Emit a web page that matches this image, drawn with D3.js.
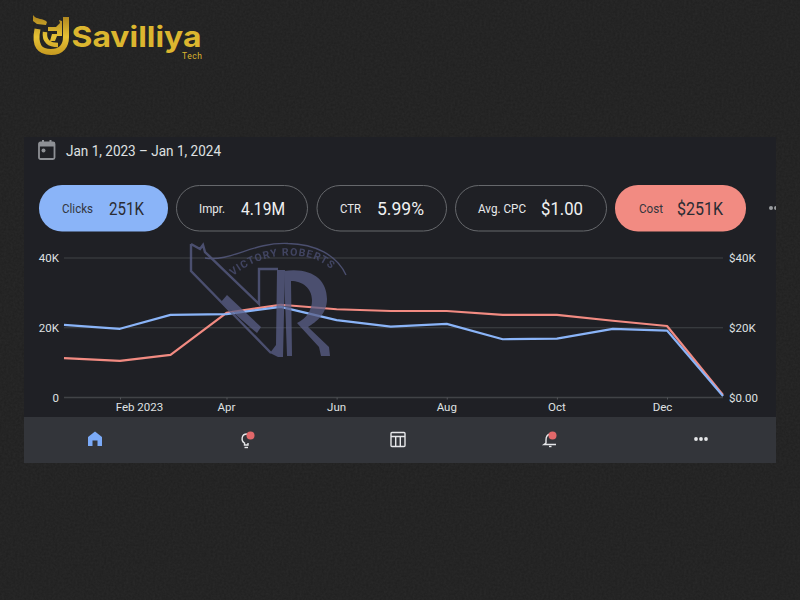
<!DOCTYPE html>
<html><head><meta charset="utf-8">
<style>html,body{margin:0;padding:0;background:#212121;overflow:hidden}svg{display:block}text{font-family:Roboto,sans-serif}</style>
<script src="https://cdn.jsdelivr.net/npm/d3@7/dist/d3.min.js"></script>
</head><body><svg id="c" width="800" height="600"></svg>
<script>
// ---- data ----
const months = ["2023-01-01","2023-02-01","2023-03-01","2023-04-01","2023-05-01","2023-06-01","2023-07-01","2023-08-01","2023-09-01","2023-10-01","2023-11-01","2023-12-01","2024-01-01"];
const clicks = [20800,19700,23700,23900,26000,22200,20300,21100,16700,16900,19700,19200,400];
const cost   = [11300,10500,12200,24300,26600,25300,24800,24800,23700,23700,22000,20500,700];
const yTicks = [0,20000,40000];
const metricNames  = ["Clicks","Impr.","CTR","Avg. CPC","Cost"];
const metricValues = ["251K","4.19M","5.99%","$1.00","$251K"];
const dateRange = "Jan 1, 2023 – Jan 1, 2024";
const brandName = "Savilliya", brandSub = "Tech", watermarkText = "VICTORY ROBERTS";

// ---- colours ----
const BLUE="#8ab4f8", RED="#f28b82", CARD="#1f2025", BAR="#33353a", TXT="#dfe0e2", GRID="#414347", WM="#5a5f88";

const svg=d3.select("#c");
const defs=svg.append("defs");
const f=defs.append("filter").attr("id","noise").attr("x",0).attr("y",0).attr("width","100%").attr("height","100%");
f.append("feTurbulence").attr("type","fractalNoise").attr("baseFrequency",0.45).attr("numOctaves",2).attr("seed",4);
f.append("feColorMatrix").attr("values","0 0 0 0 1  0 0 0 0 1  0 0 0 0 1  0 0 0 0.05 -0.01");
const g=defs.append("linearGradient").attr("id","gold").attr("gradientUnits","userSpaceOnUse").attr("x1",0).attr("y1",14).attr("x2",0).attr("y2",56);
g.append("stop").attr("offset",0).attr("stop-color","#a87f1c");
g.append("stop").attr("offset",.55).attr("stop-color","#e6c235");
g.append("stop").attr("offset",1).attr("stop-color","#c4971f");
defs.append("clipPath").attr("id","cardClip").append("rect").attr("x",24).attr("y",137).attr("width",752).attr("height",280);

svg.append("rect").attr("width",800).attr("height",600).attr("fill","#212121");
svg.append("rect").attr("width",800).attr("height",600).attr("filter","url(#noise)");

// ---- logo ----
const logo=svg.append("g").attr("fill","none").attr("stroke","url(#gold)");
logo.append("path").attr("d","M37.5 29 C34 46 40 52 51 52 C62 52 66 45 66 37 L66 17").attr("stroke-width",6);
logo.append("path").attr("d","M33 15 C36 20 44 18 47 22 L46 25 L37 24 L33 21 Z").attr("fill","url(#gold)").attr("stroke","none");
logo.append("path").attr("d","M45 32 C44 41 49 45 58 45").attr("stroke-width",4.5);
logo.append("path").attr("d","M48 27 H56 L60 23 L59 20 L62 21 L62 36 H57 L55 41 H50 L52 34 H57 V31 H48 Z").attr("fill","url(#gold)").attr("stroke","none");
svg.append("text").attr("x",71.5).attr("y",47).text(brandName).attr("fill","#dcb62f")
  .style("font-family","Inter,'Open Sans',sans-serif").style("font-weight",700).style("font-size","29px")
  .attr("textLength",130).attr("lengthAdjust","spacingAndGlyphs");
svg.append("text").attr("x",182).attr("y",58.5).text(brandSub).attr("fill","#dcb62f").style("font-size","8.5px").attr("textLength",20);

// ---- card ----
svg.append("rect").attr("x",24).attr("y",137).attr("width",752).attr("height",280).attr("fill",CARD);
svg.append("rect").attr("x",24).attr("y",417).attr("width",752).attr("height",46).attr("fill",BAR);

// calendar icon
const cal=svg.append("g").attr("transform","translate(38,140)");
cal.append("rect").attr("x",1).attr("y",2.5).attr("width",15.5).attr("height",16.5).attr("rx",1.5).attr("fill","none").attr("stroke","#8e9095").attr("stroke-width",1.8);
cal.append("rect").attr("x",1).attr("y",2.5).attr("width",15.5).attr("height",4).attr("fill","#8e9095");
cal.append("rect").attr("x",4).attr("y",0).attr("width",2).attr("height",3).attr("fill","#8e9095");
cal.append("rect").attr("x",11.5).attr("y",0).attr("width",2).attr("height",3).attr("fill","#8e9095");
cal.append("circle").attr("cx",5.5).attr("cy",10.5).attr("r",2).attr("fill","#8e9095");
svg.append("text").attr("x",66).attr("y",155.5).text(dateRange).attr("fill",TXT).style("font-size","14.5px")
  .attr("textLength",155).attr("lengthAdjust","spacingAndGlyphs");

// ---- metric chips ----
const chipX=[39,176,316.5,455,615], chipW=[129,132,130.5,152,131], labelDx=[23,23,23.5,23,24], valueDx=[70,65,60.5,86,62];
const labelW=[31,26,21,48,24], valueW=[35,44,47,42,46];
const chipFill=[BLUE,null,null,null,RED];
metricNames.forEach((n,i)=>{
  const on=!!chipFill[i];
  const c=svg.append("g").attr("transform",`translate(${chipX[i]},185)`);
  c.append("rect").attr("x",on?0:.5).attr("y",on?0:.5).attr("width",on?chipW[i]:chipW[i]-1).attr("height",on?46.5:45.5).attr("rx",23)
   .attr("fill",on?chipFill[i]:"none").attr("stroke",on?"none":"#66686c");
  c.append("text").attr("x",labelDx[i]).attr("y",27.5).text(n).attr("fill",on?"#33363d":"#e8e9eb").style("font-size","12px")
   .attr("textLength",labelW[i]).attr("lengthAdjust","spacingAndGlyphs");
  c.append("text").attr("x",valueDx[i]).attr("y",29.5).text(metricValues[i]).attr("fill",on?"#2a2c33":"#f0f1f2").style("font-size","18px").style("font-weight",400)
   .attr("textLength",valueW[i]).attr("lengthAdjust","spacingAndGlyphs");
});
const more=svg.append("g").attr("clip-path","url(#cardClip)");
[771,776].forEach(x=>more.append("circle").attr("cx",x).attr("cy",208).attr("r",2).attr("fill","#9a9ca0"));

// ---- chart ----
const parse=d3.utcParse("%Y-%m-%d");
const dates=months.map(parse);
const x=d3.scaleUtc().domain([dates[0],dates[dates.length-1]]).range([64,723]);
const y=d3.scaleLinear().domain([0,40000]).range([397.5,258]);
const fmtL=v=>v===0?"0":(v/1000)+"K";
const fmtR=v=>v===0?"$0.00":"$"+(v/1000)+"K";

const gridG=svg.append("g");
gridG.selectAll("line").data(yTicks).join("line").attr("x1",x.range()[0]).attr("x2",x.range()[1])
  .attr("y1",d=>y(d)).attr("y2",d=>y(d)).attr("stroke",GRID).attr("stroke-width",d=>d===0?1.3:1);

const styleAxis=a=>{a.select(".domain").remove();a.selectAll("text").attr("fill",TXT).style("font-size","11.5px").style("font-family","Roboto,sans-serif");};
svg.append("g").attr("transform","translate(64,0)").call(d3.axisLeft(y).tickValues(yTicks).tickFormat(fmtL).tickSize(0).tickPadding(5)).call(styleAxis);
svg.append("g").attr("transform","translate(723,0)").call(d3.axisRight(y).tickValues(yTicks).tickFormat(fmtR).tickSize(0).tickPadding(6)).call(styleAxis);

const xTicks=dates.filter((d,i)=>i%2===1);
const xa=svg.append("g").attr("transform","translate(0,397.5)")
  .call(d3.axisBottom(x).tickValues(xTicks).tickFormat(d=>d.getUTCMonth()===1?d3.utcFormat("%b %Y")(d):d3.utcFormat("%b")(d)).tickSize(2).tickPadding(3.5)).call(styleAxis);
xa.selectAll("line").attr("stroke","#55575b");
xa.selectAll("text").attr("dx",(d,i,n)=>i===0?19:i===n.length-1?-5:-0.5);

// lines
const line=d3.line().x((d,i)=>x(dates[i])).y(d=>y(d));
svg.append("path").datum(cost).attr("d",line).attr("fill","none").attr("stroke",RED).attr("stroke-width",2.2).attr("stroke-linejoin","round");
svg.append("path").datum(clicks).attr("d",line).attr("fill","none").attr("stroke",BLUE).attr("stroke-width",2.2).attr("stroke-linejoin","round");

// ---- watermark ----
const wm=svg.append("g").attr("opacity",.75);
const ws=wm.append("g").attr("fill","none").attr("stroke",WM).attr("stroke-width",2.4);
ws.append("path").attr("d","M191 244 L191 271 L271 353 M191 244 L200 249 L203 245 L205 252 L259 304 L259 269 L278 269");
ws.append("path").attr("d","M205 258 C232 262 252 242 288 243.5 C315 244 337 255 346 275").attr("stroke-width",1.3);
const wf=wm.append("g").attr("fill",WM);
wf.append("path").attr("d","M227 295 L261 327 L257 333 L221 302 Z");
wf.append("path").attr("d","M277 270 L285 270 L283 357 L278 357 L270 353 L276 345 Z");
wf.append("path").attr("d","M284 271 C312 267 327 280 327 299 C327 314 316 322 308 327 L329 347 L330 356 L321 356 L319 347 L297 323 C307 318 312 310 312 300 C312 288 302 281 291 281 L292 356 L287 356 Z");
defs.append("path").attr("id","wmText").attr("d","M233 276 C250 262 270 255 292 255.5 C315 256 332 265 340 281");
wm.append("text").append("textPath").attr("href","#wmText").text(watermarkText).attr("fill","#4d5176")
  .style("font-size","10.5px").style("font-weight",700).style("letter-spacing","1px");

// ---- bottom nav ----
const ink="#e6e7e9";
const nav=svg.append("g");
nav.append("path").attr("transform","translate(95,439)").attr("d","M0 -7.5 L7 -2 V7 H2.5 V1.5 H-2.5 V7 H-7 V-2 Z").attr("fill","#7baaf7");
const b=nav.append("g").attr("transform","translate(246,440)").attr("fill","none").attr("stroke",ink).attr("stroke-width",1.4);
b.append("path").attr("d","M1 -6 C-5 -6 -5 1 -1.5 3 V5 H2 V3");
b.append("path").attr("d","M-1.5 7.5 H2");
nav.append("circle").attr("cx",250.5).attr("cy",435.5).attr("r",4).attr("fill","#e2686a");
const t=nav.append("g").attr("transform","translate(398,439)").attr("fill","none").attr("stroke",ink).attr("stroke-width",1.4);
t.append("rect").attr("x",-7).attr("y",-6.5).attr("width",14).attr("height",14).attr("rx",1);
t.append("path").attr("d","M-7 -2.5 H7 M-2.3 -2.5 V7.5 M2.3 -2.5 V7.5");
const k=nav.append("g").attr("transform","translate(549,440)").attr("fill","none").attr("stroke",ink).attr("stroke-width",1.4);
k.append("path").attr("d","M1 -6 C-3 -5 -3 -2 -3 0 V3 L-5 4.5 H7");
k.append("path").attr("d","M0 6.5 H2.5");
nav.append("circle").attr("cx",552.5).attr("cy",435.5).attr("r",4).attr("fill","#e2686a");
[-5,0,5].forEach(d=>nav.append("circle").attr("cx",701+d).attr("cy",439).attr("r",1.9).attr("fill",ink));
</script></body></html>
